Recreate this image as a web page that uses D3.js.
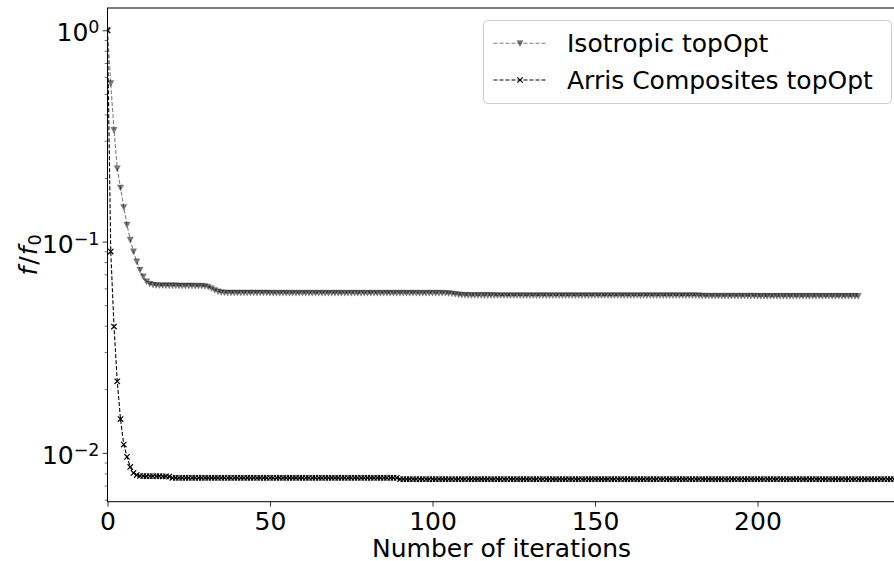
<!DOCTYPE html>
<html>
<head>
<meta charset="utf-8">
<script src="https://cdn.jsdelivr.net/npm/d3@7"></script>
<style>
  html, body { margin: 0; padding: 0; background: #fff; }
  svg { display: block; }
  text { font-family: "DejaVu Sans", sans-serif; fill: #000; }
</style>
</head>
<body>
<svg id="chart" width="894" height="561"></svg>
<script>
// ---------------- DATA ----------------
const seriesNames = ["Isotropic topOpt", "Arris Composites topOpt"];

const isotropic = [
  1.0, 0.561, 0.337, 0.222, 0.180, 0.1455, 0.120, 0.102, 0.0897, 0.0804,
  0.0735, 0.0683, 0.0647, 0.0631, 0.0624, 0.0621, 0.0620, 0.0620, 0.0619, 0.0619,
  0.0619, 0.0619, 0.0618, 0.0618, 0.0618, 0.0618, 0.0618, 0.0617, 0.0617, 0.0617,
  0.0615, 0.0610, 0.0600, 0.0589, 0.0580, 0.0575, 0.0573, 0.0572, 0.0572, 0.0572,
  0.0572, 0.0572, 0.0572, 0.0572, 0.0572, 0.0572, 0.0572, 0.0572, 0.0572, 0.0572,
  0.0571, 0.0571, 0.0571, 0.0571, 0.0571, 0.0571, 0.0571, 0.0571, 0.0571, 0.0571,
  0.0571, 0.0571, 0.0571, 0.0571, 0.0571, 0.0571, 0.0571, 0.0571, 0.0571, 0.0571,
  0.0571, 0.0571, 0.0571, 0.0571, 0.0571, 0.0571, 0.0571, 0.0571, 0.0571, 0.0571,
  0.0571, 0.0571, 0.0571, 0.0571, 0.0571, 0.0571, 0.0571, 0.0571, 0.0571, 0.0571,
  0.0571, 0.0571, 0.0571, 0.0571, 0.0571, 0.0571, 0.0571, 0.0571, 0.0571, 0.0571,
  0.0571, 0.0571, 0.0571, 0.0571, 0.0570, 0.0569, 0.0567, 0.0564, 0.0561, 0.0559,
  0.0558, 0.0557, 0.0557, 0.0557, 0.0557, 0.0557, 0.0557, 0.0557, 0.0557, 0.0557,
  0.0556, 0.0556, 0.0556, 0.0556, 0.0556, 0.0556, 0.0556, 0.0556, 0.0556, 0.0556,
  0.0556, 0.0556, 0.0556, 0.0556, 0.0556, 0.0556, 0.0556, 0.0556, 0.0556, 0.0556,
  0.0556, 0.0556, 0.0556, 0.0556, 0.0556, 0.0556, 0.0556, 0.0556, 0.0556, 0.0556,
  0.0556, 0.0556, 0.0556, 0.0556, 0.0556, 0.0556, 0.0556, 0.0556, 0.0556, 0.0556,
  0.0556, 0.0556, 0.0556, 0.0556, 0.0556, 0.0556, 0.0556, 0.0556, 0.0556, 0.0556,
  0.0556, 0.0556, 0.0556, 0.0556, 0.0556, 0.0556, 0.0556, 0.0556, 0.0556, 0.0556,
  0.0556, 0.0556, 0.0555, 0.0554, 0.0553, 0.0553, 0.0553, 0.0553, 0.0553, 0.0553,
  0.0553, 0.0553, 0.0553, 0.0553, 0.0553, 0.0553, 0.0553, 0.0553, 0.0553, 0.0553,
  0.0552, 0.0552, 0.0552, 0.0552, 0.0552, 0.0552, 0.0552, 0.0552, 0.0552, 0.0552,
  0.0552, 0.0552, 0.0552, 0.0552, 0.0552, 0.0552, 0.0552, 0.0552, 0.0552, 0.0552,
  0.0552, 0.0552, 0.0552, 0.0552, 0.0552, 0.0552, 0.0552, 0.0552, 0.0552, 0.0552,
  0.0552, 0.0552
];

const arris = [
  1.0, 0.0897, 0.0396, 0.0218, 0.01445, 0.01094, 0.00957, 0.00857, 0.00803, 0.00785,
  0.00778, 0.00776, 0.00775, 0.00775, 0.00775, 0.00775, 0.00775, 0.00774, 0.00774, 0.00772,
  0.00762, 0.00762, 0.00762, 0.00762, 0.00762, 0.00762, 0.00762, 0.00762, 0.00762, 0.00762,
  0.00762, 0.00762, 0.00762, 0.00762, 0.00762, 0.00762, 0.00762, 0.00762, 0.00762, 0.00762,
  0.00762, 0.00762, 0.00762, 0.00762, 0.00762, 0.00762, 0.00762, 0.00762, 0.00762, 0.00762,
  0.00762, 0.00762, 0.00762, 0.00762, 0.00762, 0.00762, 0.00762, 0.00762, 0.00762, 0.00762,
  0.00762, 0.00762, 0.00762, 0.00762, 0.00762, 0.00762, 0.00762, 0.00762, 0.00762, 0.00762,
  0.00762, 0.00762, 0.00762, 0.00762, 0.00762, 0.00762, 0.00762, 0.00762, 0.00762, 0.00762,
  0.00762, 0.00762, 0.00762, 0.00762, 0.00762, 0.00762, 0.00762, 0.00762, 0.00762, 0.00762,
  0.00750, 0.00750, 0.00750, 0.00750, 0.00750, 0.00750, 0.00750, 0.00750, 0.00750, 0.00750,
  0.00750, 0.00750, 0.00750, 0.00750, 0.00750, 0.00750, 0.00750, 0.00750, 0.00750, 0.00750,
  0.00750, 0.00750, 0.00750, 0.00750, 0.00750, 0.00750, 0.00750, 0.00750, 0.00750, 0.00750,
  0.00750, 0.00750, 0.00750, 0.00750, 0.00750, 0.00750, 0.00750, 0.00750, 0.00750, 0.00750,
  0.00750, 0.00750, 0.00750, 0.00750, 0.00750, 0.00750, 0.00750, 0.00750, 0.00750, 0.00750,
  0.00750, 0.00750, 0.00750, 0.00750, 0.00750, 0.00750, 0.00750, 0.00750, 0.00750, 0.00750,
  0.00750, 0.00750, 0.00750, 0.00750, 0.00750, 0.00750, 0.00750, 0.00750, 0.00750, 0.00750,
  0.00750, 0.00750, 0.00750, 0.00750, 0.00750, 0.00750, 0.00750, 0.00750, 0.00750, 0.00750,
  0.00750, 0.00750, 0.00750, 0.00750, 0.00750, 0.00750, 0.00750, 0.00750, 0.00750, 0.00750,
  0.00750, 0.00750, 0.00750, 0.00750, 0.00750, 0.00750, 0.00750, 0.00750, 0.00750, 0.00750,
  0.00750, 0.00750, 0.00750, 0.00750, 0.00750, 0.00750, 0.00750, 0.00750, 0.00750, 0.00750,
  0.00750, 0.00750, 0.00750, 0.00750, 0.00750, 0.00750, 0.00750, 0.00750, 0.00750, 0.00750,
  0.00750, 0.00750, 0.00750, 0.00750, 0.00750, 0.00750, 0.00750, 0.00750, 0.00750, 0.00750,
  0.00750, 0.00750, 0.00750, 0.00750, 0.00750, 0.00750, 0.00750, 0.00750, 0.00750, 0.00750,
  0.00750, 0.00750, 0.00750, 0.00750, 0.00750, 0.00750, 0.00750, 0.00750, 0.00750, 0.00750,
  0.00750, 0.00750, 0.00750
];

const xTicks = [0, 50, 100, 150, 200];
const yMajorTicks = [1, 0.1, 0.01];
const yMajorExponents = ["0", "\u22121", "\u22122"];
const yMinorTicks = [0.006, 0.007, 0.008, 0.009, 0.02, 0.03, 0.04, 0.05, 0.06, 0.07, 0.08, 0.09,
                     0.2, 0.3, 0.4, 0.5, 0.6, 0.7, 0.8, 0.9];
const xDomain = [0, 242.5];
const yDomain = [0.00587, 1.275];

// ---------------- LAYOUT ----------------
const L = 107.5, R = 895.6, T = 8, B = 501.7;
const svg = d3.select("#chart");

const x = d3.scaleLinear().domain(xDomain).range([L, R]);
const y = d3.scaleLog().domain(yDomain).range([B, T]);

svg.append("defs").append("clipPath").attr("id", "plotclip")
  .append("rect").attr("x", L).attr("y", T).attr("width", R - L).attr("height", B - T);

// ---------------- SERIES ----------------
const plot = svg.append("g").attr("clip-path", "url(#plotclip)");

const styles = [
  { data: isotropic, color: "#000000", alpha: 0.5, marker: "tri" },
  { data: arris, color: "#000000", alpha: 1, marker: "x" }
];

const line = d3.line().x((d, i) => x(i)).y(d => y(d));

function drawMarker(g, type, color, alpha, cx, cy) {
  if (type === "tri") {
    const s = 3.2;
    g.append("path")
      .attr("d", `M${cx - s},${cy - s * 0.85}L${cx + s},${cy - s * 0.85}L${cx},${cy + s * 1.0}Z`)
      .attr("fill", color).attr("fill-opacity", alpha)
      .attr("stroke", color).attr("stroke-opacity", alpha * 0.6).attr("stroke-width", 0.6);
  } else {
    const s = 2.7;
    g.append("path")
      .attr("d", `M${cx - s},${cy - s}L${cx + s},${cy + s}M${cx - s},${cy + s}L${cx + s},${cy - s}`)
      .attr("stroke", color).attr("stroke-opacity", alpha).attr("stroke-width", 1.2).attr("fill", "none");
  }
}

styles.forEach(st => {
  const g = plot.append("g");
  g.append("path")
    .datum(st.data)
    .attr("d", line)
    .attr("fill", "none")
    .attr("stroke", st.color)
    .attr("stroke-opacity", st.alpha)
    .attr("stroke-width", 1.1)
    .attr("stroke-dasharray", "4,2");
  const mg = g.append("g");
  st.data.forEach((d, i) => drawMarker(mg, st.marker, st.color, st.alpha, x(i), y(d)));
});

// ---------------- AXES ----------------
const xAxis = svg.append("g").attr("transform", `translate(0,${B})`)
  .call(d3.axisBottom(x).tickValues(xTicks).tickSize(4.9).tickSizeOuter(0).tickFormat(d3.format("d")));
xAxis.select(".domain").remove();
xAxis.selectAll(".tick line").attr("stroke", "#000").attr("stroke-width", 0.8);
xAxis.selectAll(".tick text")
  .attr("y", 28.3).attr("dy", null)
  .style("font-family", "DejaVu Sans").style("font-size", "25px").attr("fill", "#000");

const yAxisMinor = svg.append("g").attr("transform", `translate(${L},0)`)
  .call(d3.axisLeft(y).tickValues(yMinorTicks).tickSize(2.8).tickSizeOuter(0).tickFormat(""));
yAxisMinor.select(".domain").remove();
yAxisMinor.selectAll(".tick line").attr("stroke", "#000").attr("stroke-width", 0.6);

const yAxisMajor = svg.append("g").attr("transform", `translate(${L},0)`)
  .call(d3.axisLeft(y).tickValues(yMajorTicks).tickSize(4.9).tickSizeOuter(0).tickFormat(""));
yAxisMajor.select(".domain").remove();
yAxisMajor.selectAll(".tick line").attr("stroke", "#000").attr("stroke-width", 0.8);
yAxisMajor.selectAll(".tick").each(function (d, i) {
  const t = d3.select(this).append("text")
    .attr("x", -8).attr("y", 0).attr("dy", "0.42em")
    .attr("text-anchor", "end")
    .style("font-size", "25px");
  t.append("tspan").text("10");
  t.append("tspan").attr("dy", "-0.45em").style("font-size", "17.5px").text(yMajorExponents[i]);
});

// frame (spines)
svg.append("rect")
  .attr("x", L).attr("y", T).attr("width", R - L).attr("height", B - T)
  .attr("fill", "none").attr("stroke", "#000").attr("stroke-width", 1);

// axis labels
svg.append("text")
  .attr("x", (L + R) / 2).attr("y", 556.5)
  .attr("text-anchor", "middle")
  .style("font-size", "25px")
  .text("Number of iterations");

const yl = svg.append("text")
  .attr("transform", `translate(37,${(T + B) / 2}) rotate(-90)`)
  .attr("text-anchor", "middle")
  .style("font-size", "25px");
yl.append("tspan").style("font-style", "italic").text("f");
yl.append("tspan").attr("dx", 2).text("/");
yl.append("tspan").attr("dx", 1).style("font-style", "italic").text("f");
yl.append("tspan").attr("dx", 1).attr("dy", "0.22em").style("font-size", "17.5px").text("0");

// ---------------- LEGEND ----------------
const lg = svg.append("g");
lg.append("rect")
  .attr("x", 483.5).attr("y", 20.5).attr("width", 408).attr("height", 83).attr("rx", 4)
  .attr("fill", "#fff").attr("fill-opacity", 0.8)
  .attr("stroke", "#cccccc").attr("stroke-width", 1);
const rowY = [43.3, 80];
const rowBase = [51.7, 88.5];
styles.forEach((st, i) => {
  lg.append("line")
    .attr("x1", 493.5).attr("x2", 546).attr("y1", rowY[i]).attr("y2", rowY[i])
    .attr("stroke", st.color).attr("stroke-opacity", st.alpha)
    .attr("stroke-width", 1.1).attr("stroke-dasharray", "4,2");
  drawMarker(lg, st.marker, st.color, st.alpha, 520, rowY[i]);
  lg.append("text").attr("x", 567).attr("y", rowBase[i])
    .style("font-size", "25px").text(seriesNames[i]);
});
</script>
</body>
</html>
